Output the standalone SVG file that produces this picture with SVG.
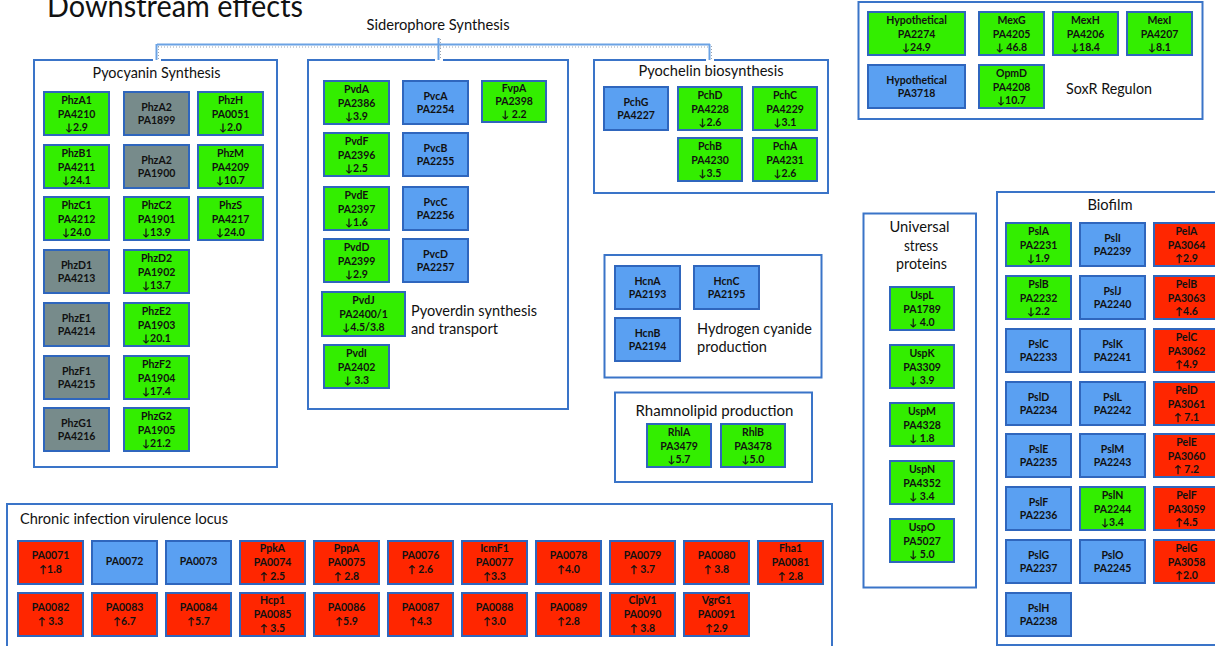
<svg xmlns="http://www.w3.org/2000/svg" width="1215" height="646" viewBox="0 0 1215 646">
<style>
.grp{fill:#fff;stroke:#3a74c8;stroke-width:2}
.gb{stroke:#2f66bd;stroke-width:2}
.gr{fill:#33ee00}.bl{fill:#5aa0f2}.gy{fill:#778b8b}.rd{fill:#ff2600}
.t{font-family:Lato,"Liberation Sans",sans-serif;font-weight:bold;font-size:10.5px;fill:#111;text-anchor:middle}
.h{font-family:Lato,"Liberation Sans",sans-serif;font-size:15px;fill:#111}
.hc{text-anchor:middle}
.br{stroke:#6aa2e4;stroke-width:2;fill:none}
.bd{stroke:#9aa4b0;stroke-width:1;stroke-dasharray:1 2;fill:none}
.gap{stroke:#fff;stroke-width:8}
</style>
<rect width="1215" height="646" fill="#fff"/>
<text class="h" x="47" y="17" style="font-size:30px" textLength="256" lengthAdjust="spacingAndGlyphs">Downstream effects</text>

<!-- group boxes -->
<g id="pyocyanin">
<rect class="grp" x="34" y="60" width="243" height="407"/>
<text class="h hc" x="156.5" y="78" textLength="128" lengthAdjust="spacingAndGlyphs">Pyocyanin Synthesis</text>
</g>
<g id="pyoverdin">
<rect class="grp" x="308" y="60" width="260" height="349"/>
<text class="h" x="411" y="315.5" textLength="126" lengthAdjust="spacingAndGlyphs">Pyoverdin synthesis</text>
<text class="h" x="411" y="334" textLength="87" lengthAdjust="spacingAndGlyphs">and transport</text>
</g>
<g id="pyochelin">
<rect class="grp" x="594" y="60" width="234" height="133"/>
<text class="h hc" x="711" y="75.5" textLength="145" lengthAdjust="spacingAndGlyphs">Pyochelin biosynthesis</text>
</g>
<g id="soxr">
<rect class="grp" x="858.5" y="2" width="344" height="117"/>
<text class="h" x="1066" y="93.5" textLength="86" lengthAdjust="spacingAndGlyphs">SoxR Regulon</text>
</g>
<g id="hcn">
<rect class="grp" x="604.5" y="255" width="217" height="122.5"/>
<text class="h" x="697" y="334" textLength="115" lengthAdjust="spacingAndGlyphs">Hydrogen cyanide</text>
<text class="h" x="697" y="351.5" textLength="70" lengthAdjust="spacingAndGlyphs">production</text>
</g>
<g id="rhamnolipid">
<rect class="grp" x="615" y="392.5" width="197" height="89.5"/>
<text class="h hc" x="714.5" y="415.5" textLength="158" lengthAdjust="spacingAndGlyphs">Rhamnolipid production</text>
</g>
<g id="usp">
<rect class="grp" x="863.5" y="213.5" width="112.5" height="374"/>
<text class="h hc" x="919.5" y="232" textLength="60" lengthAdjust="spacingAndGlyphs">Universal</text>
<text class="h hc" x="921" y="250.5" textLength="34" lengthAdjust="spacingAndGlyphs">stress</text>
<text class="h hc" x="921.5" y="268.5" textLength="51" lengthAdjust="spacingAndGlyphs">proteins</text>
</g>
<g id="biofilm">
<rect class="grp" x="997" y="192" width="240" height="453"/>
<text class="h hc" x="1110" y="210" textLength="45" lengthAdjust="spacingAndGlyphs">Biofilm</text>
</g>
<g id="chronic">
<rect class="grp" x="7" y="504" width="825" height="160"/>
<text class="h" x="20" y="524" textLength="208" lengthAdjust="spacingAndGlyphs">Chronic infection virulence locus</text>
</g>

<!-- siderophore bracket -->
<g id="connectors">
<line class="gap" x1="157" y1="50" x2="157" y2="61"/>
<line class="gap" x1="439" y1="50" x2="439" y2="61"/>
<line class="gap" x1="710" y1="50" x2="710" y2="61"/>
<line class="br" x1="157" y1="44.5" x2="710" y2="44.5"/>
<line class="bd" x1="158" y1="47" x2="709" y2="47"/>
<line class="br" x1="156.5" y1="44" x2="156.5" y2="60"/>
<line class="bd" x1="158.5" y1="46" x2="158.5" y2="59"/>
<line class="br" x1="438.5" y1="38" x2="438.5" y2="60"/>
<line class="bd" x1="440.5" y1="39" x2="440.5" y2="59"/>
<line class="br" x1="709.5" y1="44" x2="709.5" y2="60"/>
<line class="bd" x1="711.5" y1="46" x2="711.5" y2="59"/>
<text class="h hc" x="438" y="30" textLength="143" lengthAdjust="spacingAndGlyphs">Siderophore Synthesis</text>
</g>

<!-- Pyocyanin genes -->
<g id="PhzA1"><rect class="gb gr" x="44" y="92" width="65" height="43"/><text class="t"><tspan x="76.5" y="104">PhzA1</tspan><tspan x="76.5" y="117.5">PA4210</tspan><tspan x="76.5" y="131">↓2.9</tspan></text></g>
<g id="PhzA2a"><rect class="gb gy" x="124" y="92" width="65" height="43"/><text class="t"><tspan x="156.5" y="111">PhzA2</tspan><tspan x="156.5" y="124">PA1899</tspan></text></g>
<g id="PhzH"><rect class="gb gr" x="198" y="92" width="65" height="43"/><text class="t"><tspan x="230.5" y="104">PhzH</tspan><tspan x="230.5" y="117.5">PA0051</tspan><tspan x="230.5" y="131">↓2.0</tspan></text></g>
<g id="PhzB1"><rect class="gb gr" x="44" y="145" width="65" height="43"/><text class="t"><tspan x="76.5" y="157">PhzB1</tspan><tspan x="76.5" y="170.5">PA4211</tspan><tspan x="76.5" y="184">↓24.1</tspan></text></g>
<g id="PhzA2b"><rect class="gb gy" x="124" y="145" width="65" height="43"/><text class="t"><tspan x="156.5" y="164">PhzA2</tspan><tspan x="156.5" y="177">PA1900</tspan></text></g>
<g id="PhzM"><rect class="gb gr" x="198" y="145" width="65" height="43"/><text class="t"><tspan x="230.5" y="157">PhzM</tspan><tspan x="230.5" y="170.5">PA4209</tspan><tspan x="230.5" y="184">↓10.7</tspan></text></g>
<g id="PhzC1"><rect class="gb gr" x="44" y="197" width="65" height="43"/><text class="t"><tspan x="76.5" y="209">PhzC1</tspan><tspan x="76.5" y="222.5">PA4212</tspan><tspan x="76.5" y="236">↓24.0</tspan></text></g>
<g id="PhzC2"><rect class="gb gr" x="124" y="197" width="65" height="43"/><text class="t"><tspan x="156.5" y="209">PhzC2</tspan><tspan x="156.5" y="222.5">PA1901</tspan><tspan x="156.5" y="236">↓13.9</tspan></text></g>
<g id="PhzS"><rect class="gb gr" x="198" y="197" width="65" height="43"/><text class="t"><tspan x="230.5" y="209">PhzS</tspan><tspan x="230.5" y="222.5">PA4217</tspan><tspan x="230.5" y="236">↓24.0</tspan></text></g>
<g id="PhzD1"><rect class="gb gy" x="44" y="250" width="65" height="43"/><text class="t"><tspan x="76.5" y="269">PhzD1</tspan><tspan x="76.5" y="282">PA4213</tspan></text></g>
<g id="PhzD2"><rect class="gb gr" x="124" y="250" width="65" height="43"/><text class="t"><tspan x="156.5" y="262">PhzD2</tspan><tspan x="156.5" y="275.5">PA1902</tspan><tspan x="156.5" y="289">↓13.7</tspan></text></g>
<g id="PhzE1"><rect class="gb gy" x="44" y="303" width="65" height="43"/><text class="t"><tspan x="76.5" y="322">PhzE1</tspan><tspan x="76.5" y="335">PA4214</tspan></text></g>
<g id="PhzE2"><rect class="gb gr" x="124" y="303" width="65" height="43"/><text class="t"><tspan x="156.5" y="315">PhzE2</tspan><tspan x="156.5" y="328.5">PA1903</tspan><tspan x="156.5" y="342">↓20.1</tspan></text></g>
<g id="PhzF1"><rect class="gb gy" x="44" y="356" width="65" height="43"/><text class="t"><tspan x="76.5" y="375">PhzF1</tspan><tspan x="76.5" y="388">PA4215</tspan></text></g>
<g id="PhzF2"><rect class="gb gr" x="124" y="356" width="65" height="43"/><text class="t"><tspan x="156.5" y="368">PhzF2</tspan><tspan x="156.5" y="381.5">PA1904</tspan><tspan x="156.5" y="395">↓17.4</tspan></text></g>
<g id="PhzG1"><rect class="gb gy" x="44" y="408" width="65" height="43"/><text class="t"><tspan x="76.5" y="427">PhzG1</tspan><tspan x="76.5" y="440">PA4216</tspan></text></g>
<g id="PhzG2"><rect class="gb gr" x="124" y="408" width="65" height="43"/><text class="t"><tspan x="156.5" y="420">PhzG2</tspan><tspan x="156.5" y="433.5">PA1905</tspan><tspan x="156.5" y="447">↓21.2</tspan></text></g>

<!-- Pyoverdin genes -->
<g id="PvdA"><rect class="gb gr" x="324" y="81" width="65" height="43"/><text class="t"><tspan x="356.5" y="93">PvdA</tspan><tspan x="356.5" y="106.5">PA2386</tspan><tspan x="356.5" y="120">↓3.9</tspan></text></g>
<g id="PvcA"><rect class="gb bl" x="403" y="81" width="65" height="43"/><text class="t"><tspan x="435.5" y="100">PvcA</tspan><tspan x="435.5" y="113">PA2254</tspan></text></g>
<g id="FvpA"><rect class="gb gr" x="482" y="81" width="64" height="41"/><text class="t"><tspan x="514" y="92">FvpA</tspan><tspan x="514" y="105">PA2398</tspan><tspan x="514" y="118">↓ 2.2</tspan></text></g>
<g id="PvdF"><rect class="gb gr" x="324" y="133" width="65" height="43"/><text class="t"><tspan x="356.5" y="145">PvdF</tspan><tspan x="356.5" y="158.5">PA2396</tspan><tspan x="356.5" y="172">↓2.5</tspan></text></g>
<g id="PvcB"><rect class="gb bl" x="403" y="133" width="65" height="43"/><text class="t"><tspan x="435.5" y="152">PvcB</tspan><tspan x="435.5" y="165">PA2255</tspan></text></g>
<g id="PvdE"><rect class="gb gr" x="324" y="187" width="65" height="43"/><text class="t"><tspan x="356.5" y="199">PvdE</tspan><tspan x="356.5" y="212.5">PA2397</tspan><tspan x="356.5" y="226">↓1.6</tspan></text></g>
<g id="PvcC"><rect class="gb bl" x="403" y="187" width="65" height="43"/><text class="t"><tspan x="435.5" y="206">PvcC</tspan><tspan x="435.5" y="219">PA2256</tspan></text></g>
<g id="PvdD"><rect class="gb gr" x="324" y="239" width="65" height="43"/><text class="t"><tspan x="356.5" y="251">PvdD</tspan><tspan x="356.5" y="264.5">PA2399</tspan><tspan x="356.5" y="278">↓2.9</tspan></text></g>
<g id="PvcD"><rect class="gb bl" x="403" y="239" width="65" height="43"/><text class="t"><tspan x="435.5" y="258">PvcD</tspan><tspan x="435.5" y="271">PA2257</tspan></text></g>
<g id="PvdJ"><rect class="gb gr" x="322" y="292" width="83" height="44"/><text class="t"><tspan x="363.5" y="304">PvdJ</tspan><tspan x="363.5" y="317.5">PA2400/1</tspan><tspan x="363.5" y="331">↓4.5/3.8</tspan></text></g>
<g id="PvdI"><rect class="gb gr" x="324" y="345" width="65" height="43"/><text class="t"><tspan x="356.5" y="357">PvdI</tspan><tspan x="356.5" y="370.5">PA2402</tspan><tspan x="356.5" y="384">↓ 3.3</tspan></text></g>

<!-- Pyochelin genes -->
<g id="PchG"><rect class="gb bl" x="604" y="87" width="64" height="43"/><text class="t"><tspan x="636" y="106">PchG</tspan><tspan x="636" y="119">PA4227</tspan></text></g>
<g id="PchD"><rect class="gb gr" x="678" y="87" width="64" height="43"/><text class="t"><tspan x="710" y="99">PchD</tspan><tspan x="710" y="112.5">PA4228</tspan><tspan x="710" y="126">↓2.6</tspan></text></g>
<g id="PchC"><rect class="gb gr" x="753" y="87" width="64" height="43"/><text class="t"><tspan x="785" y="99">PchC</tspan><tspan x="785" y="112.5">PA4229</tspan><tspan x="785" y="126">↓3.1</tspan></text></g>
<g id="PchB"><rect class="gb gr" x="678" y="138" width="64" height="43"/><text class="t"><tspan x="710" y="150">PchB</tspan><tspan x="710" y="163.5">PA4230</tspan><tspan x="710" y="177">↓3.5</tspan></text></g>
<g id="PchA"><rect class="gb gr" x="753" y="138" width="64" height="43"/><text class="t"><tspan x="785" y="150">PchA</tspan><tspan x="785" y="163.5">PA4231</tspan><tspan x="785" y="177">↓2.6</tspan></text></g>

<!-- SoxR genes -->
<g id="Hyp2274"><rect class="gb gr" x="868" y="12" width="97" height="43"/><text class="t"><tspan x="916.5" y="24">Hypothetical</tspan><tspan x="916.5" y="37.5">PA2274</tspan><tspan x="916.5" y="51">↓24.9</tspan></text></g>
<g id="MexG"><rect class="gb gr" x="979" y="12" width="65" height="43"/><text class="t"><tspan x="1011.5" y="24">MexG</tspan><tspan x="1011.5" y="37.5">PA4205</tspan><tspan x="1011.5" y="51">↓ 46.8</tspan></text></g>
<g id="MexH"><rect class="gb gr" x="1053" y="12" width="65" height="43"/><text class="t"><tspan x="1085.5" y="24">MexH</tspan><tspan x="1085.5" y="37.5">PA4206</tspan><tspan x="1085.5" y="51">↓18.4</tspan></text></g>
<g id="MexI"><rect class="gb gr" x="1127" y="12" width="65" height="43"/><text class="t"><tspan x="1159.5" y="24">MexI</tspan><tspan x="1159.5" y="37.5">PA4207</tspan><tspan x="1159.5" y="51">↓8.1</tspan></text></g>
<g id="Hyp3718"><rect class="gb bl" x="868" y="65" width="97" height="43"/><text class="t"><tspan x="916.5" y="84">Hypothetical</tspan><tspan x="916.5" y="97">PA3718</tspan></text></g>
<g id="OpmD"><rect class="gb gr" x="979" y="65" width="65" height="43"/><text class="t"><tspan x="1011.5" y="77">OpmD</tspan><tspan x="1011.5" y="90.5">PA4208</tspan><tspan x="1011.5" y="104">↓10.7</tspan></text></g>

<!-- HCN genes -->
<g id="HcnA"><rect class="gb bl" x="615" y="266" width="65" height="43"/><text class="t"><tspan x="647.5" y="285">HcnA</tspan><tspan x="647.5" y="298">PA2193</tspan></text></g>
<g id="HcnC"><rect class="gb bl" x="694" y="266" width="65" height="43"/><text class="t"><tspan x="726.5" y="285">HcnC</tspan><tspan x="726.5" y="298">PA2195</tspan></text></g>
<g id="HcnB"><rect class="gb bl" x="615" y="318" width="65" height="43"/><text class="t"><tspan x="647.5" y="337">HcnB</tspan><tspan x="647.5" y="350">PA2194</tspan></text></g>

<!-- Rhamnolipid genes -->
<g id="RhlA"><rect class="gb gr" x="647" y="424" width="64" height="43"/><text class="t"><tspan x="679" y="436">RhlA</tspan><tspan x="679" y="449.5">PA3479</tspan><tspan x="679" y="463">↓5.7</tspan></text></g>
<g id="RhlB"><rect class="gb gr" x="721" y="424" width="64" height="43"/><text class="t"><tspan x="753" y="436">RhlB</tspan><tspan x="753" y="449.5">PA3478</tspan><tspan x="753" y="463">↓5.0</tspan></text></g>

<!-- Usp genes -->
<g id="UspL"><rect class="gb gr" x="890" y="287" width="64" height="43"/><text class="t"><tspan x="922" y="299">UspL</tspan><tspan x="922" y="312.5">PA1789</tspan><tspan x="922" y="326">↓ 4.0</tspan></text></g>
<g id="UspK"><rect class="gb gr" x="890" y="345" width="64" height="43"/><text class="t"><tspan x="922" y="357">UspK</tspan><tspan x="922" y="370.5">PA3309</tspan><tspan x="922" y="384">↓ 3.9</tspan></text></g>
<g id="UspM"><rect class="gb gr" x="890" y="403" width="64" height="43"/><text class="t"><tspan x="922" y="415">UspM</tspan><tspan x="922" y="428.5">PA4328</tspan><tspan x="922" y="442">↓ 1.8</tspan></text></g>
<g id="UspN"><rect class="gb gr" x="890" y="461" width="64" height="43"/><text class="t"><tspan x="922" y="473">UspN</tspan><tspan x="922" y="486.5">PA4352</tspan><tspan x="922" y="500">↓ 3.4</tspan></text></g>
<g id="UspO"><rect class="gb gr" x="890" y="519" width="64" height="43"/><text class="t"><tspan x="922" y="531">UspO</tspan><tspan x="922" y="544.5">PA5027</tspan><tspan x="922" y="558">↓ 5.0</tspan></text></g>

<!-- Biofilm genes -->
<g id="PslA"><rect class="gb gr" x="1006" y="223" width="65" height="43"/><text class="t"><tspan x="1038.5" y="235">PslA</tspan><tspan x="1038.5" y="248.5">PA2231</tspan><tspan x="1038.5" y="262">↓1.9</tspan></text></g>
<g id="PslB"><rect class="gb gr" x="1006" y="276" width="65" height="43"/><text class="t"><tspan x="1038.5" y="288">PslB</tspan><tspan x="1038.5" y="301.5">PA2232</tspan><tspan x="1038.5" y="315">↓2.2</tspan></text></g>
<g id="PslC"><rect class="gb bl" x="1006" y="329" width="65" height="43"/><text class="t"><tspan x="1038.5" y="348">PslC</tspan><tspan x="1038.5" y="361">PA2233</tspan></text></g>
<g id="PslD"><rect class="gb bl" x="1006" y="382" width="65" height="43"/><text class="t"><tspan x="1038.5" y="401">PslD</tspan><tspan x="1038.5" y="414">PA2234</tspan></text></g>
<g id="PslE"><rect class="gb bl" x="1006" y="434" width="65" height="43"/><text class="t"><tspan x="1038.5" y="453">PslE</tspan><tspan x="1038.5" y="466">PA2235</tspan></text></g>
<g id="PslF"><rect class="gb bl" x="1006" y="487" width="65" height="43"/><text class="t"><tspan x="1038.5" y="506">PslF</tspan><tspan x="1038.5" y="519">PA2236</tspan></text></g>
<g id="PslG"><rect class="gb bl" x="1006" y="540" width="65" height="43"/><text class="t"><tspan x="1038.5" y="559">PslG</tspan><tspan x="1038.5" y="572">PA2237</tspan></text></g>
<g id="PslH"><rect class="gb bl" x="1006" y="593" width="65" height="43"/><text class="t"><tspan x="1038.5" y="612">PslH</tspan><tspan x="1038.5" y="625">PA2238</tspan></text></g>
<g id="PslI"><rect class="gb bl" x="1080" y="223" width="65" height="43"/><text class="t"><tspan x="1112.5" y="242">PslI</tspan><tspan x="1112.5" y="255">PA2239</tspan></text></g>
<g id="PslJ"><rect class="gb bl" x="1080" y="276" width="65" height="43"/><text class="t"><tspan x="1112.5" y="295">PslJ</tspan><tspan x="1112.5" y="308">PA2240</tspan></text></g>
<g id="PslK"><rect class="gb bl" x="1080" y="329" width="65" height="43"/><text class="t"><tspan x="1112.5" y="348">PslK</tspan><tspan x="1112.5" y="361">PA2241</tspan></text></g>
<g id="PslL"><rect class="gb bl" x="1080" y="382" width="65" height="43"/><text class="t"><tspan x="1112.5" y="401">PslL</tspan><tspan x="1112.5" y="414">PA2242</tspan></text></g>
<g id="PslM"><rect class="gb bl" x="1080" y="434" width="65" height="43"/><text class="t"><tspan x="1112.5" y="453">PslM</tspan><tspan x="1112.5" y="466">PA2243</tspan></text></g>
<g id="PslN"><rect class="gb gr" x="1080" y="487" width="65" height="43"/><text class="t"><tspan x="1112.5" y="499">PslN</tspan><tspan x="1112.5" y="512.5">PA2244</tspan><tspan x="1112.5" y="526">↓3.4</tspan></text></g>
<g id="PslO"><rect class="gb bl" x="1080" y="540" width="65" height="43"/><text class="t"><tspan x="1112.5" y="559">PslO</tspan><tspan x="1112.5" y="572">PA2245</tspan></text></g>
<g id="PelA"><rect class="gb rd" x="1154" y="223" width="65" height="43"/><text class="t"><tspan x="1186.5" y="235">PelA</tspan><tspan x="1186.5" y="248.5">PA3064</tspan><tspan x="1186.5" y="262">↑2.9</tspan></text></g>
<g id="PelB"><rect class="gb rd" x="1154" y="276" width="65" height="43"/><text class="t"><tspan x="1186.5" y="288">PelB</tspan><tspan x="1186.5" y="301.5">PA3063</tspan><tspan x="1186.5" y="315">↑4.6</tspan></text></g>
<g id="PelC"><rect class="gb rd" x="1154" y="329" width="65" height="43"/><text class="t"><tspan x="1186.5" y="341">PelC</tspan><tspan x="1186.5" y="354.5">PA3062</tspan><tspan x="1186.5" y="368">↑4.9</tspan></text></g>
<g id="PelD"><rect class="gb rd" x="1154" y="382" width="65" height="43"/><text class="t"><tspan x="1186.5" y="394">PelD</tspan><tspan x="1186.5" y="407.5">PA3061</tspan><tspan x="1186.5" y="421">↑ 7.1</tspan></text></g>
<g id="PelE"><rect class="gb rd" x="1154" y="434" width="65" height="43"/><text class="t"><tspan x="1186.5" y="446">PelE</tspan><tspan x="1186.5" y="459.5">PA3060</tspan><tspan x="1186.5" y="473">↑ 7.2</tspan></text></g>
<g id="PelF"><rect class="gb rd" x="1154" y="487" width="65" height="43"/><text class="t"><tspan x="1186.5" y="499">PelF</tspan><tspan x="1186.5" y="512.5">PA3059</tspan><tspan x="1186.5" y="526">↑4.5</tspan></text></g>
<g id="PelG"><rect class="gb rd" x="1154" y="540" width="65" height="43"/><text class="t"><tspan x="1186.5" y="552">PelG</tspan><tspan x="1186.5" y="565.5">PA3058</tspan><tspan x="1186.5" y="579">↑2.0</tspan></text></g>

<!-- Chronic infection genes row 1 -->
<g id="PA0071"><rect class="gb rd" x="18" y="541" width="65" height="43"/><text class="t"><tspan x="50.5" y="559">PA0071</tspan><tspan x="50.5" y="573">↑1.8</tspan></text></g>
<g id="PA0072"><rect class="gb bl" x="92" y="541" width="65" height="43"/><text class="t"><tspan x="124.5" y="565">PA0072</tspan></text></g>
<g id="PA0073"><rect class="gb bl" x="166" y="541" width="65" height="43"/><text class="t"><tspan x="198.5" y="565">PA0073</tspan></text></g>
<g id="PA0074"><rect class="gb rd" x="240" y="541" width="65" height="43"/><text class="t"><tspan x="272.5" y="552">PpkA</tspan><tspan x="272.5" y="566">PA0074</tspan><tspan x="272.5" y="580">↑ 2.5</tspan></text></g>
<g id="PA0075"><rect class="gb rd" x="314" y="541" width="65" height="43"/><text class="t"><tspan x="346.5" y="552">PppA</tspan><tspan x="346.5" y="566">PA0075</tspan><tspan x="346.5" y="580">↑ 2.8</tspan></text></g>
<g id="PA0076"><rect class="gb rd" x="388" y="541" width="65" height="43"/><text class="t"><tspan x="420.5" y="559">PA0076</tspan><tspan x="420.5" y="573">↑ 2.6</tspan></text></g>
<g id="PA0077"><rect class="gb rd" x="462" y="541" width="65" height="43"/><text class="t"><tspan x="494.5" y="552">IcmF1</tspan><tspan x="494.5" y="566">PA0077</tspan><tspan x="494.5" y="580">↑3.3</tspan></text></g>
<g id="PA0078"><rect class="gb rd" x="536" y="541" width="65" height="43"/><text class="t"><tspan x="568.5" y="559">PA0078</tspan><tspan x="568.5" y="573">↑4.0</tspan></text></g>
<g id="PA0079"><rect class="gb rd" x="610" y="541" width="65" height="43"/><text class="t"><tspan x="642.5" y="559">PA0079</tspan><tspan x="642.5" y="573">↑ 3.7</tspan></text></g>
<g id="PA0080"><rect class="gb rd" x="684" y="541" width="65" height="43"/><text class="t"><tspan x="716.5" y="559">PA0080</tspan><tspan x="716.5" y="573">↑ 3.8</tspan></text></g>
<g id="PA0081"><rect class="gb rd" x="758" y="541" width="65" height="43"/><text class="t"><tspan x="790.5" y="552">Fha1</tspan><tspan x="790.5" y="566">PA0081</tspan><tspan x="790.5" y="580">↑ 2.8</tspan></text></g>
<!-- row 2 -->
<g id="PA0082"><rect class="gb rd" x="18" y="593" width="65" height="43"/><text class="t"><tspan x="50.5" y="611">PA0082</tspan><tspan x="50.5" y="625">↑ 3.3</tspan></text></g>
<g id="PA0083"><rect class="gb rd" x="92" y="593" width="65" height="43"/><text class="t"><tspan x="124.5" y="611">PA0083</tspan><tspan x="124.5" y="625">↑6.7</tspan></text></g>
<g id="PA0084"><rect class="gb rd" x="166" y="593" width="65" height="43"/><text class="t"><tspan x="198.5" y="611">PA0084</tspan><tspan x="198.5" y="625">↑5.7</tspan></text></g>
<g id="PA0085"><rect class="gb rd" x="240" y="593" width="65" height="43"/><text class="t"><tspan x="272.5" y="604">Hcp1</tspan><tspan x="272.5" y="618">PA0085</tspan><tspan x="272.5" y="632">↑ 3.5</tspan></text></g>
<g id="PA0086"><rect class="gb rd" x="314" y="593" width="65" height="43"/><text class="t"><tspan x="346.5" y="611">PA0086</tspan><tspan x="346.5" y="625">↑5.9</tspan></text></g>
<g id="PA0087"><rect class="gb rd" x="388" y="593" width="65" height="43"/><text class="t"><tspan x="420.5" y="611">PA0087</tspan><tspan x="420.5" y="625">↑4.3</tspan></text></g>
<g id="PA0088"><rect class="gb rd" x="462" y="593" width="65" height="43"/><text class="t"><tspan x="494.5" y="611">PA0088</tspan><tspan x="494.5" y="625">↑3.0</tspan></text></g>
<g id="PA0089"><rect class="gb rd" x="536" y="593" width="65" height="43"/><text class="t"><tspan x="568.5" y="611">PA0089</tspan><tspan x="568.5" y="625">↑2.8</tspan></text></g>
<g id="PA0090"><rect class="gb rd" x="610" y="593" width="65" height="43"/><text class="t"><tspan x="642.5" y="604">ClpV1</tspan><tspan x="642.5" y="618">PA0090</tspan><tspan x="642.5" y="632">↑ 3.8</tspan></text></g>
<g id="PA0091"><rect class="gb rd" x="684" y="593" width="65" height="43"/><text class="t"><tspan x="716.5" y="604">VgrG1</tspan><tspan x="716.5" y="618">PA0091</tspan><tspan x="716.5" y="632">↑2.9</tspan></text></g>
</svg>
